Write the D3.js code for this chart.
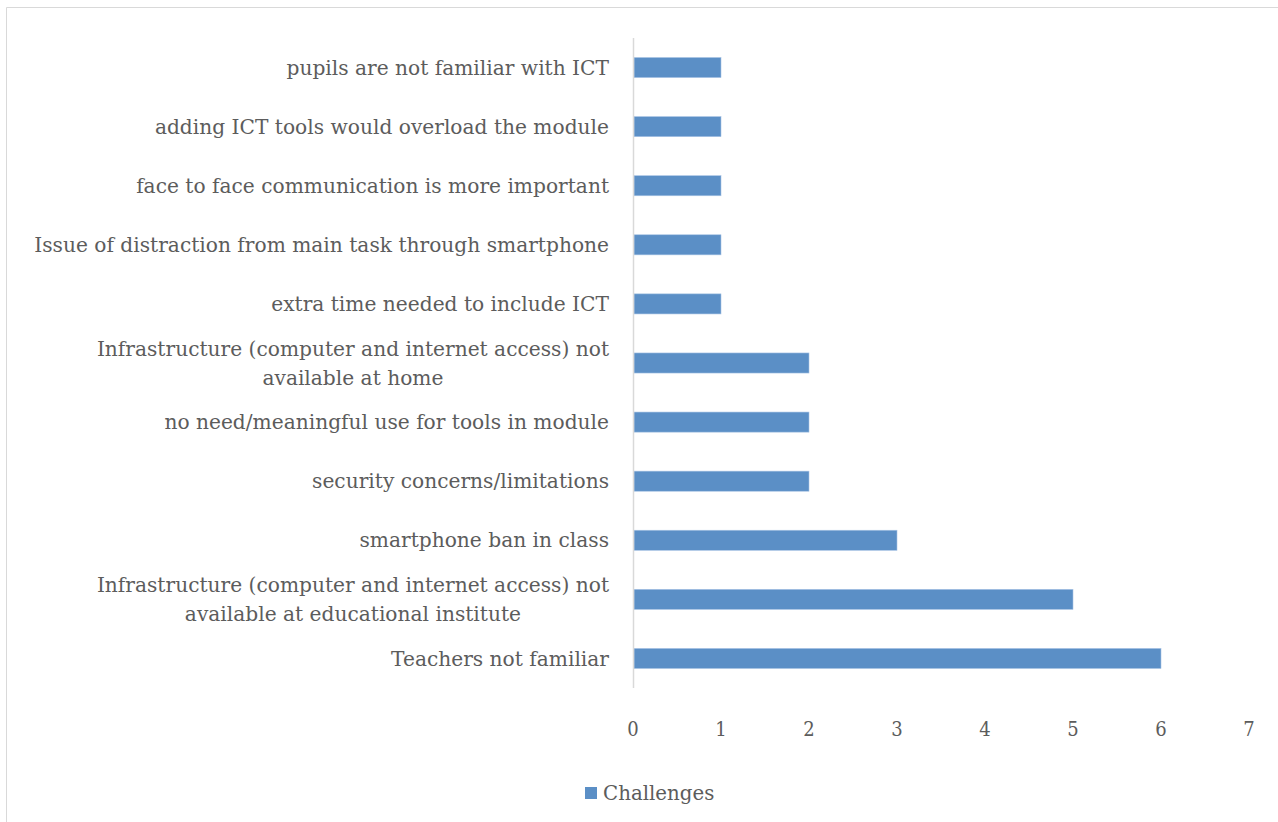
<!DOCTYPE html>
<html>
<head>
<meta charset="utf-8">
<script src="https://cdn.jsdelivr.net/npm/d3@7"></script>
<style>
  body { margin: 0; background: #fff; }
  svg { display: block; }
</style>
</head>
<body>
<script>
// categories, bottom to top as in the chart
var categories = [
    ["Teachers not familiar"],
    ["Infrastructure (computer and internet access) not", "available at educational institute"],
    ["smartphone ban in class"],
    ["security concerns/limitations"],
    ["no need/meaningful use for tools in module"],
    ["Infrastructure (computer and internet access) not", "available at home"],
    ["extra time needed to include ICT"],
    ["Issue of distraction from main task through smartphone"],
    ["face to face communication is more important"],
    ["adding ICT tools would overload the module"],
    ["pupils are not familiar with ICT"]
];
var challenges = [6, 5, 3, 2, 2, 2, 1, 1, 1, 1, 1];
var ticks = [0, 1, 2, 3, 4, 5, 6, 7];
var seriesName = "Challenges";

var width = 1278, height = 822;
var font = "'DejaVu Serif', 'Liberation Serif', serif";
var tickFont = "'DejaVu Serif Condensed', 'Liberation Serif', serif";
var textColor = "#5c5c5c";
var barColor = "#5b8fc6";

var svg = d3.select("body")
    .append("svg")
    .attr("width", width)
    .attr("height", height);

// chart frame
svg.append("path")
    .attr("d", "M6.5," + height + "V7.5H" + width)
    .attr("fill", "none")
    .attr("stroke", "#d9d9d9")
    .attr("stroke-width", 1);

var x = d3.scaleLinear()
    .domain([0, 7])
    .range([633, 1249]);

var y = d3.scaleBand()
    .domain(d3.range(categories.length))
    .range([688, 38])
    .paddingInner(0.66)
    .paddingOuter(0.33);

svg.selectAll(".bar")
    .data(challenges)
    .enter()
    .append("rect")
    .attr("class", "bar")
    .attr("x", x(0) + 1)
    .attr("y", function(d, i) { return y(i); })
    .attr("width", function(d) { return x(d) - x(0) - 1; })
    .attr("height", y.bandwidth())
    .attr("fill", barColor)
    .attr("stroke", "#a9c4e4")
    .attr("stroke-width", 0.6);

// vertical axis line
svg.append("line")
    .attr("x1", x(0) + 0.5)
    .attr("x2", x(0) + 0.5)
    .attr("y1", 38)
    .attr("y2", 688)
    .attr("stroke", "#d9d9d9")
    .attr("stroke-width", 1.5);

// category labels
var labelRight = 609;
var lineH = 29;
var labelSize = 20.2;
var labels = svg.selectAll(".cat")
    .data(categories)
    .enter()
    .append("g")
    .attr("class", "cat")
    .attr("transform", function(d, i) {
        var cy = y(i) + y.bandwidth() / 2;
        return "translate(0," + (cy - (d.length - 1) * lineH / 2) + ")";
    });

labels.each(function(lines) {
    var g = d3.select(this);
    var first = g.append("text")
        .attr("x", labelRight)
        .attr("dy", "0.35em")
        .attr("text-anchor", "end")
        .attr("font-family", font)
        .attr("font-size", labelSize)
        .attr("fill", textColor)
        .text(lines[0]);
    if (lines.length > 1) {
        var w = first.node().getComputedTextLength();
        g.append("text")
            .attr("x", labelRight - w / 2)
            .attr("y", lineH)
            .attr("dy", "0.35em")
            .attr("text-anchor", "middle")
            .attr("font-family", font)
            .attr("font-size", labelSize)
            .attr("fill", textColor)
            .text(lines[1]);
    }
});

// x tick labels
svg.selectAll(".tick")
    .data(ticks)
    .enter()
    .append("text")
    .attr("class", "tick")
    .attr("x", function(d) { return x(d); })
    .attr("y", 729)
    .attr("dy", "0.35em")
    .attr("text-anchor", "middle")
    .attr("font-family", tickFont)
    .attr("font-size", 20)
    .attr("fill", textColor)
    .text(function(d) { return d; });

// legend
var legend = svg.append("g")
    .attr("transform", "translate(585,793)");
legend.append("rect")
    .attr("x", 0)
    .attr("y", -6)
    .attr("width", 12)
    .attr("height", 12)
    .attr("fill", barColor);
legend.append("text")
    .attr("x", 18)
    .attr("dy", "0.35em")
    .attr("font-family", font)
    .attr("font-size", 19.8)
    .attr("fill", textColor)
    .text(seriesName);
</script>
</body>
</html>
